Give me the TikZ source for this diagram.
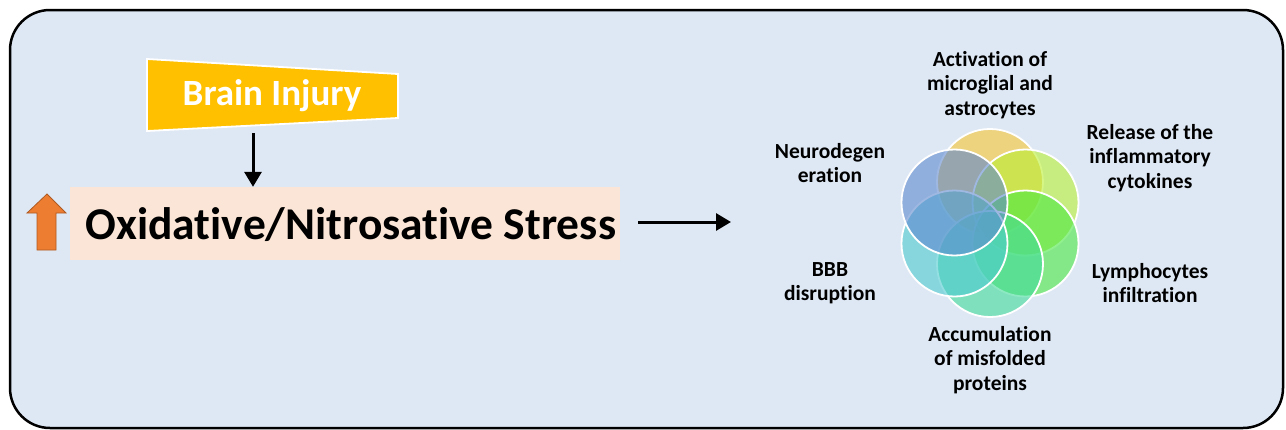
\documentclass[tikz,border=0pt]{standalone}
\usepackage{fontspec}
\setmainfont[Ligatures=NoCommon]{Carlito}
\usetikzlibrary{arrows.meta}
\definecolor{bgblue}{RGB}{222,232,244}
\definecolor{pinkbox}{RGB}{251,229,214}
\definecolor{gold}{RGB}{255,192,0}
\definecolor{orangeA}{RGB}{237,125,49}
\definecolor{orangeB}{RGB}{174,90,33}
\definecolor{cTop}{RGB}{247,197,47}
\definecolor{cUR}{RGB}{185,239,51}
\definecolor{cLR}{RGB}{73,232,66}
\definecolor{cBot}{RGB}{65,219,154}
\definecolor{cLL}{RGB}{77,202,208}
\definecolor{cUL}{RGB}{94,137,207}
\tikzset{
  petal/.style={circle, minimum size=106pt, inner sep=0pt, draw=white, line width=1.8pt, fill opacity=0.6},
  lbl/.style={font=\fontsize{21.5}{24.5}\selectfont\bfseries, align=center, text=black},
  arr/.style={line width=3pt, -{Triangle[length=15pt,width=17pt]}},
}
\begin{document}
\begin{tikzpicture}[x=1pt,y=-1pt]
\useasboundingbox (0,0) rectangle (1286,429);
% outer panel
\draw[fill=bgblue, line width=2.5pt, rounded corners=40pt] (10,10) rectangle (1283,428);
% brain injury shape
\draw[fill=gold, draw=white, line width=1.8pt] (147,59) -- (398,74) -- (398,118) -- (147,131) -- cycle;
\node[font=\fontsize{37}{42}\selectfont\bfseries, text=white] (bi) at (272,96) {Brain Injury};
% stress box
\node[fill=pinkbox, minimum width=550pt, minimum height=73pt, inner sep=0pt] (ox) at (345,223.5) {};
\node[font=\fontsize{45.5}{50}\selectfont\bfseries] (oxt) at (351,225) {Oxidative/Nitrosative Stress};
% orange up arrow
\draw[fill=orangeA, draw=orangeB, line width=0.8pt] (47,194) -- (66,213) -- (56,213) -- (56,250) -- (37,250) -- (37,213) -- (27,213) -- cycle;
% arrows
\coordinate (a1) at (253,133);
\draw[arr] (a1) -- (a1 |- ox.north);
\coordinate (r2) at (731,222);
\draw[arr] ([xshift=18pt]ox.east |- r2) -- (r2);
% petals
\node[petal, fill=cTop] (p1) at (990,182) {};
\node[petal, fill=cUR]  (p2) at (1025.5,202.5) {};
\node[petal, fill=cLR]  (p3) at (1025.5,243.5) {};
\node[petal, fill=cBot] (p4) at (990,264) {};
\node[petal, fill=cLL]  (p5) at (954.5,243.5) {};
\node[petal, fill=cUL]  (p6) at (954.5,202.5) {};
% labels
\node[lbl] (l1) at (990,85) {Activation of\\microglial and\\astrocytes};
\node[lbl] (l2) at (1150,158) {Release of the\\inflammatory\\cytokines};
\node[lbl] (l3) at (1150,283) {Lymphocytes\\infiltration};
\node[lbl] (l4) at (990,360) {Accumulation\\of misfolded\\proteins};
\node[lbl] (l5) at (830,283) {BBB\\disruption};
\node[lbl] (l6) at (830,163) {Neurodegen\\eration};
\end{tikzpicture}
\end{document}
